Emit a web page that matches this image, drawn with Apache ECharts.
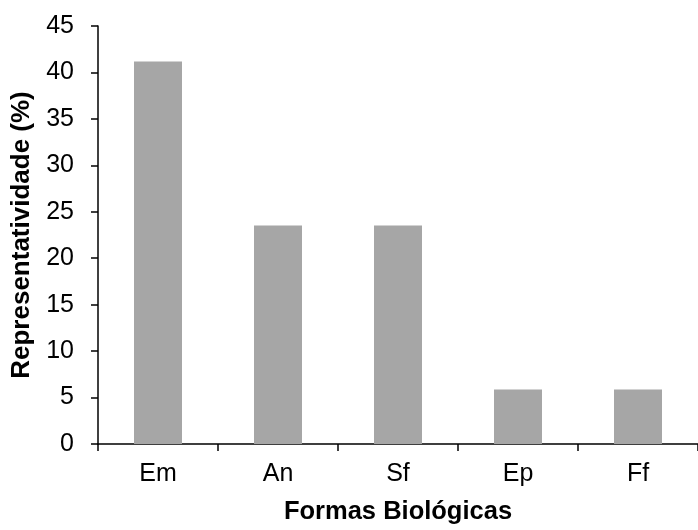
<!DOCTYPE html>
<html><head><meta charset="utf-8">
<script src="https://cdn.jsdelivr.net/npm/echarts@6/dist/echarts.min.js"></script>
<style>html,body{margin:0;padding:0;background:#fff}#c{width:698px;height:530px}</style>
</head><body><div id="c"></div>
<script>
const categories = ['Em', 'An', 'Sf', 'Ep', 'Ff'];
const values = [41.18, 23.53, 23.53, 5.88, 5.88];
const yTicks = [0, 45, 5];
const xTitle = 'Formas Biológicas';
const yTitle = 'Representatividade (%)';

const chart = echarts.init(document.getElementById('c'), null, {renderer: 'canvas'});
const font = 'Liberation Sans, Arial, sans-serif';
chart.setOption({
  animation: false,
  grid: {left: 98, top: 26, width: 605, height: 420},
  xAxis: {
    type: 'category', data: categories,
    name: xTitle, nameLocation: 'middle', nameGap: 55,
    nameTextStyle: {fontFamily: font, fontSize: 25.5, fontWeight: 'bold', color: '#000'},
    axisLine: {lineStyle: {color: '#000', width: 1.5}},
    axisTick: {show: true, length: 7, lineStyle: {color: '#000', width: 1.5}},
    axisLabel: {fontFamily: font, fontSize: 25, color: '#000', margin: 18}
  },
  yAxis: {
    type: 'value', min: yTicks[0], max: yTicks[1], interval: yTicks[2],
    name: yTitle, nameLocation: 'middle', nameGap: 62,
    nameTextStyle: {fontFamily: font, fontSize: 26, fontWeight: 'bold', color: '#000'},
    axisLine: {show: true, lineStyle: {color: '#000', width: 1.5}},
    axisTick: {show: true, length: 7, lineStyle: {color: '#000', width: 1.5}},
    axisLabel: {fontFamily: font, fontSize: 25, color: '#000', margin: 24},
    splitLine: {show: false}
  },
  series: [{
    type: 'bar', data: values, barWidth: '40%',
    itemStyle: {color: '#A6A6A6'}
  }]
});
</script></body></html>
